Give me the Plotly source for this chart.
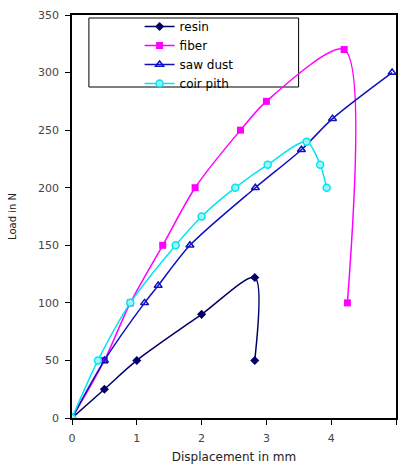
import plotly.graph_objects as go

resin_x = [0, 0.5, 1.0, 2.0, 2.82, 2.82]
resin_y = [0, 25, 50, 90, 122, 50]

fiber_x = [0, 0.5, 0.9, 1.4, 1.9, 2.6, 3.0, 4.2, 4.25]
fiber_y = [0, 50, 100, 150, 200, 250, 275, 320, 100]

saw_x = [0, 0.5, 1.12, 1.33, 1.82, 2.83, 3.54, 4.02, 4.94]
saw_y = [0, 50, 100, 115, 150, 200, 233, 260, 300]

coir_x = [0, 0.4, 0.9, 1.6, 2.0, 2.52, 3.02, 3.62, 3.83, 3.93]
coir_y = [0, 50, 100, 150, 175, 200, 220, 240, 220, 200]

names = ["resin", "fiber", "saw dust", "coir pith"]
colors = ["#000066", "#FF00FF", "#1010C0", "#00E5F0"]

FONT = "DejaVu Sans, Liberation Sans, Arial"

fig = go.Figure()
fig.add_trace(go.Scatter(x=resin_x, y=resin_y, name=names[0], mode="lines+markers",
                         line=dict(color=colors[0], width=1.5, shape="spline", smoothing=0.8),
                         marker=dict(symbol="diamond", size=7, color=colors[0])))
fig.add_trace(go.Scatter(x=fiber_x, y=fiber_y, name=names[1], mode="lines+markers",
                         line=dict(color=colors[1], width=1.5, shape="spline", smoothing=0.8),
                         marker=dict(symbol="square", size=7, color=colors[1])))
fig.add_trace(go.Scatter(x=saw_x, y=saw_y, name=names[2], mode="lines+markers",
                         line=dict(color=colors[2], width=1.5, shape="spline", smoothing=0.8),
                         marker=dict(symbol="triangle-up-open", size=7, color=colors[2],
                                     line=dict(width=1.5))))
fig.add_trace(go.Scatter(x=coir_x, y=coir_y, name=names[3], mode="lines+markers",
                         line=dict(color=colors[3], width=1.5, shape="spline", smoothing=0.8),
                         marker=dict(symbol="circle", size=7, color="#9FF4F8",
                                     line=dict(color=colors[3], width=1.5))))

axis_common = dict(showline=True, linecolor="black", linewidth=1.5, mirror=True,
                   ticks="outside", ticklen=5, tickcolor="black", showgrid=False,
                   zeroline=False, ticklabelstandoff=4,
                   tickfont=dict(family=FONT, size=11, color="#444444"))

fig.update_xaxes(range=[0, 5], dtick=1,
                 title=dict(text="Displacement in mm", font=dict(family=FONT, size=12, color="#222222"), standoff=9),
                 **axis_common)
fig.update_yaxes(range=[0, 350], dtick=50,
                 title=dict(text="Load in N", font=dict(family=FONT, size=10, color="#222222"), standoff=20),
                 **axis_common)

fig.add_shape(type="rect", xref="paper", yref="paper",
              x0=(89 - 72) / 326, x1=(300 - 72) / 326,
              y0=(418 - 87) / 403, y1=(418 - 18) / 403,
              line=dict(color="black", width=1), fillcolor="white", layer="below")

fig.update_layout(
    width=399, height=466,
    margin=dict(l=72, r=1, t=15, b=48),
    plot_bgcolor="white", paper_bgcolor="white",
    legend=dict(x=(140 - 72) / 326, y=(418 - 12) / 403, xanchor="left", yanchor="top",
                bgcolor="rgba(0,0,0,0)", borderwidth=0, tracegroupgap=0,
                font=dict(family=FONT, size=12, color="black")),
)

fig.write_html("out.html", config={"displayModeBar": False},
               post_script="document.body.style.margin='0px';")
